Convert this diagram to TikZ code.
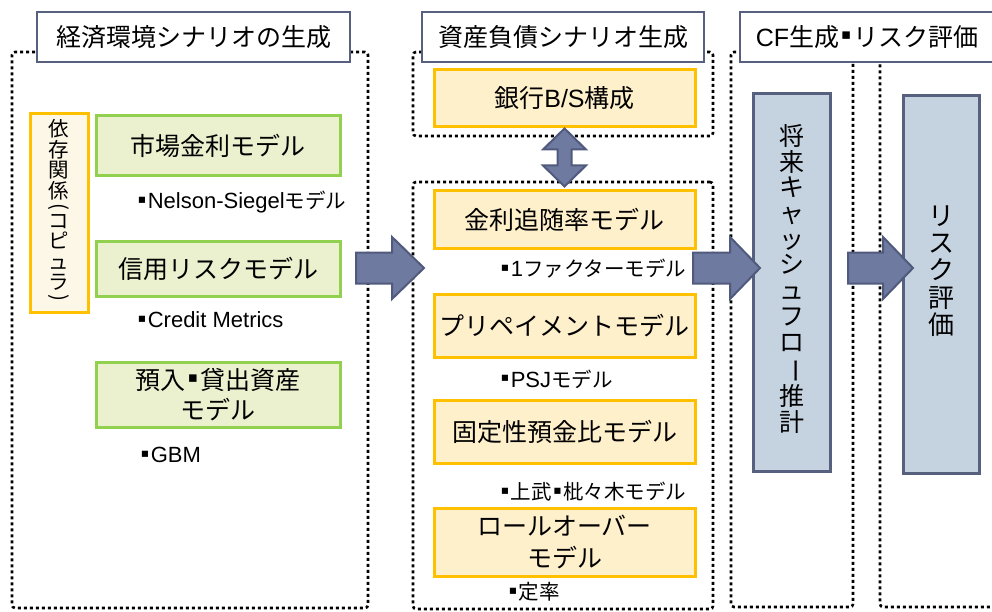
\documentclass[tikz,border=0pt]{standalone}
\usepackage{fontspec}
\setmainfont{Noto Sans CJK JP}
\newfontfamily\lat{Liberation Sans}
\newfontfamily\djv{DejaVu Sans}
\newcommand\mysq{\hspace{0.08em}\raisebox{0.26em}{\djv\scalebox{0.6}{▪}}\hspace{0.08em}}
\newcommand\latn[1]{{\lat\fontsize{22}{22}\selectfont #1}}
\usetikzlibrary{calc}
\definecolor{hdrc}{RGB}{88,96,128}
\definecolor{grnb}{RGB}{146,208,80}
\definecolor{grnf}{RGB}{235,241,206}
\definecolor{orgb}{RGB}{255,192,0}
\definecolor{orgf}{RGB}{255,240,204}
\definecolor{copf}{RGB}{253,247,232}
\definecolor{bluf}{RGB}{197,210,224}
\definecolor{arrf}{RGB}{111,122,160}
\definecolor{arrb}{RGB}{80,90,125}
\begin{document}
\begin{tikzpicture}[x=1pt,y=-1pt,
  panel/.style={draw=black, line width=2.6pt, dash pattern=on 3pt off 3pt, rounded corners=3pt, inner sep=0pt},
  hdr/.style={draw=hdrc, line width=2.5pt, fill=white, inner sep=0pt, font=\fontsize{25}{30}\selectfont},
  gbox/.style={draw=grnb, line width=3pt, fill=grnf, inner sep=0pt, align=center, font=\fontsize{25}{30}\selectfont},
  obox/.style={draw=orgb, line width=3pt, fill=orgf, inner sep=0pt, align=center, font=\fontsize{25}{32}\selectfont},
  bbox/.style={draw=hdrc, line width=3pt, fill=bluf, inner sep=0pt},
  note/.style={anchor=west, inner sep=0pt, font=\fontsize{20.5}{22}\selectfont},
  vtext/.style={align=center, inner sep=0pt},
  blk/.style={draw=arrb, line width=2pt, fill=arrf, line join=miter},
]
\useasboundingbox (0,0) rectangle (992,612);

% dotted panels
\node[panel, minimum width=356pt, minimum height=556pt] (p1) at (190,330) {};
\node[panel, minimum width=300pt, minimum height=84pt] (p2a) at (563,94) {};
\node[panel, minimum width=300pt, minimum height=427pt] (p2b) at (563,395.5) {};
\node[panel, minimum width=122pt, minimum height=555pt] (p3) at (792,329.5) {};
\node[panel, minimum width=130pt, minimum height=555pt] (p4) at (945,329.5) {};

% headers
\node[hdr, minimum width=313pt, minimum height=50pt] (h1) at (193.5,37) {経済環境シナリオの生成};
\node[hdr, minimum width=282pt, minimum height=50pt] (h2) at (563,37) {資産負債シナリオ生成};
\node[hdr, minimum width=270pt, minimum height=50pt] (h3) at (875,37) {};
\node[inner sep=0pt, font=\fontsize{25}{30}\selectfont] (h3t) at (867,37) {{\lat CF}生成\mysq リスク評価};

% left panel
\node[draw=orgb, line width=3pt, fill=copf, minimum width=58pt, minimum height=198pt, inner sep=0pt] (cop) at (59,213) {};
\node[vtext, font=\fontsize{20.5}{20.5}\selectfont] (copt) at (59,212) {依\\存\\関\\係\\[-5.5pt]\rotatebox[origin=c]{-90}{(}\\[-5.5pt]コ\\ピ\\ュ\\ラ\\[-5.5pt]\rotatebox[origin=c]{-90}{)}};

\node[gbox, minimum width=244pt, minimum height=60pt] (g1) at (218,146) {市場金利モデル};
\node[note] (n1) at (136,202) {\mysq\latn{Nelson-Siegel}モデル};
\node[gbox, minimum width=244pt, minimum height=55pt] (g2) at (218,268.5) {信用リスクモデル};
\node[note] (n2) at (136,320) {\mysq\latn{Credit Metrics}};
\node[gbox, minimum width=244pt, minimum height=65pt] (g3) at (218,394.5) {預入\mysq 貸出資産\\モデル};
\node[note] (n3) at (139,455) {\mysq\latn{GBM}};

% middle panel
\node[obox, minimum width=261pt, minimum height=57pt] (bs) at (564.5,98.5) {銀行{\lat B/S}構成};
\node[obox, minimum width=261pt, minimum height=57pt] (m1) at (564.5,219.5) {金利追随率モデル};
\node[note] (n4) at (499,269) {\mysq\latn{1}ファクターモデル};
\node[obox, minimum width=261pt, minimum height=63pt] (m2) at (564.5,325.5) {プリペイメントモデル};
\node[note] (n5) at (499,379) {\mysq\latn{PSJ}モデル};
\node[obox, minimum width=261pt, minimum height=63pt] (m3) at (564.5,431.5) {固定性預金比モデル};
\node[note] (n6) at (499,492) {\mysq 上武\mysq 枇々木モデル};
\node[obox, minimum width=261pt, minimum height=68pt] (m4) at (564.5,542) {ロールオーバー\\モデル};
\node[note] (n7) at (507,592) {\mysq 定率};

% right panels
\node[bbox, minimum width=77pt, minimum height=377pt] (cf) at (791.5,282.5) {};
\node[vtext, font=\fontsize{25}{25.7}\selectfont] (cft) at (791.5,279) {将\\来\\キ\\ャ\\ッ\\シ\\ュ\\フ\\ロ\\\rotatebox[origin=c]{-90}{ー}\\推\\計};
\node[bbox, minimum width=76pt, minimum height=377pt] (rk) at (941,284.5) {};
\node[vtext, font=\fontsize{26}{27.4}\selectfont] (rkt) at (941,271) {リ\\ス\\ク\\評\\価};

% double arrow between B/S and lower panel
\draw[blk] (bs.south) -- ++(21.5,21) -- ++(-14.5,0) -- ++(0,16) -- ++(14.5,0) -- ++(-21.5,21)
  -- ++(-21.5,-21) -- ++(14.5,0) -- ++(0,-16) -- ++(-14.5,0) -- cycle;

% block arrows
\coordinate (a1) at (356,268);
\coordinate (a2) at (693,268);
\coordinate (a3) at (848,268);
\draw[blk] (a1) ++(0,-15.5) -- ++(36,0) -- ++(0,-15.5) -- ++(32,31) -- ++(-32,31) -- ++(0,-15.5) -- ++(-36,0) -- cycle;
\draw[blk] (a2) ++(0,-15.5) -- ++(37,0) -- ++(0,-15.5) -- ++(30,31) -- ++(-30,31) -- ++(0,-15.5) -- ++(-37,0) -- cycle;
\draw[blk] (a3) ++(0,-15.5) -- ++(35,0) -- ++(0,-15.5) -- ++(30,31) -- ++(-30,31) -- ++(0,-15.5) -- ++(-35,0) -- cycle;
\end{tikzpicture}
\end{document}
